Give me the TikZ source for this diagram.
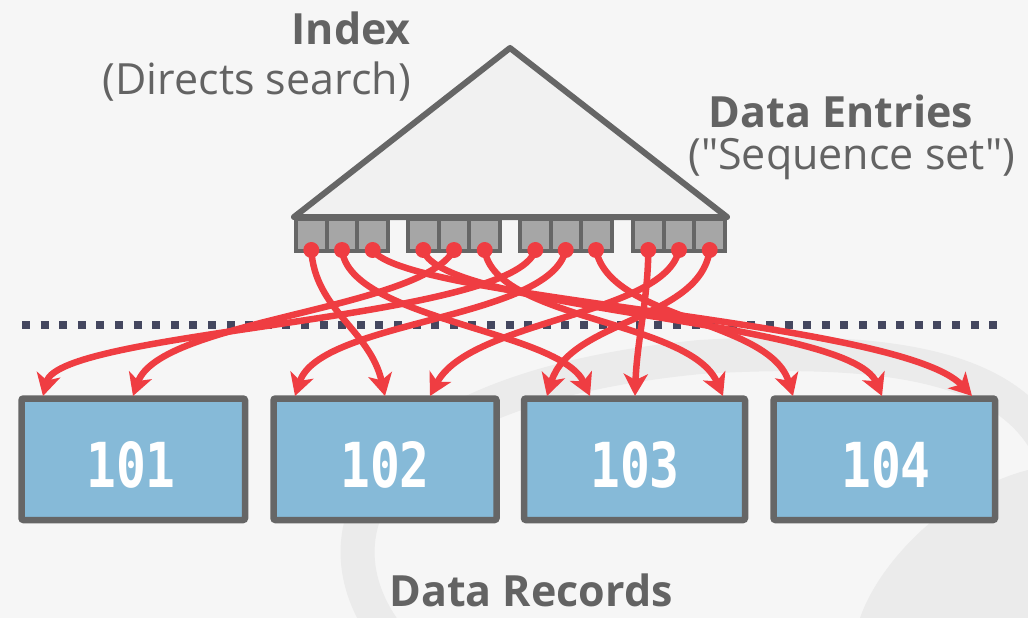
\documentclass[tikz,border=0pt]{standalone}
\usepackage{fontspec}
\setmainfont{Open Sans}[Ligatures=TeXOff]
\newfontfamily\digitfont[FakeStretch=0.8]{DejaVu Sans Mono}
\usetikzlibrary{arrows.meta}
\definecolor{bg}{HTML}{F6F6F6}
\definecolor{wm}{HTML}{EBEBEB}
\definecolor{edge}{HTML}{666666}
\definecolor{cellfill}{HTML}{A6A6A6}
\definecolor{trifill}{HTML}{F1F1F1}
\definecolor{recfill}{HTML}{86BAD8}
\definecolor{ptr}{HTML}{EF3D42}
\definecolor{sep}{HTML}{44475F}
\definecolor{txt}{HTML}{636363}
\begin{document}
\begin{tikzpicture}[x=1pt,y=-1pt,
  lbl/.style={inner sep=0pt, text=txt, font=\fontsize{43}{50}\selectfont},
  blbl/.style={inner sep=0pt, text=txt, font=\fontsize{43}{50}\selectfont\bfseries},
  record/.style={draw=edge, fill=recfill, line width=6.5pt, rounded corners=2pt},
  rectext/.style={inner sep=0pt, text=white, font=\digitfont\bfseries\fontsize{62}{68}\selectfont},
  cell/.style={draw=edge, fill=cellfill, line width=4pt},
  ptrline/.style={draw=ptr, line width=6.5pt, -{Stealth[length=22pt,width=24pt,inset=6pt]}},
  ptrdot/.style={circle, fill=ptr, inner sep=0pt, minimum size=16pt}
]
\useasboundingbox (0,0) rectangle (1028,618);
\fill[bg] (0,0) rectangle (1028,618);
% watermark
\draw[wm, line width=34pt] (392,640) .. controls (310,540) and (360,390) .. (700,357)
   .. controls (900,345) and (1010,370) .. (1050,450);
\fill[wm] (1028,470) .. controls (950,490) and (880,560) .. (860,618) -- (1028,618) -- cycle;
% separator
\draw[sep, line width=8pt, dash pattern=on 8pt off 10.6pt] (22,325) -- (998,325);
% records
\draw[record] (21.5,398.5) rectangle (245,520) node[midway] (r1) {};
\draw[record] (273.5,398.5) rectangle (496.5,520) node[midway] (r2) {};
\draw[record] (524,398.5) rectangle (745,520) node[midway] (r3) {};
\draw[record] (773.5,398.5) rectangle (995,520) node[midway] (r4) {};
\node[rectext, anchor=base] (t1) at (131,487) {101};
\node[rectext, anchor=base] (t2) at (385,487) {102};
\node[rectext, anchor=base] (t3) at (635,487) {103};
\node[rectext, anchor=base] (t4) at (886,487) {104};
% arrow targets
\foreach \n/\x in {a/43,b/133,c/295,d/385,e/430,f/547,g/590,h/635,i/723,j/793,k/882,l/972}
  \coordinate (\n) at (\x,396);
% triangle
\draw[edge, fill=trifill, line width=6pt, line join=round] (510,48) -- (727,217) -- (294,217) -- cycle;
% cells
\foreach \g/\x in {1/296,2/408,3/520,4/633}{
  \foreach \c in {0,1,2}{
    \draw[cell] ({\x+\c*30.7},219) rectangle ({\x+(\c+1)*30.7},251);
  }
}
% dots
\foreach \n/\x in {1/311.3,2/342,3/372.7,4/423.3,5/454,6/484.7,7/535.3,8/565.7,9/596,10/648.3,11/679,12/709.7}
  \node[ptrdot] (p\n) at (\x,250) {};
% pointers
\draw[ptrline] (p1.center) .. controls (315,310) and (370,330) .. (d);
\draw[ptrline] (p2.center) .. controls (350,320) and (560,330) .. (g);
\draw[ptrline] (p3.center) .. controls (405,300) and (900,320) .. (l);
\draw[ptrline] (p4.center) .. controls (440,310) and (850,320) .. (k);
\draw[ptrline] (p5.center) .. controls (420,310) and (160,320) .. (b);
\draw[ptrline] (p6.center) .. controls (495,320) and (690,320) .. (i);
\draw[ptrline] (p7.center) .. controls (515,320) and (60,330) .. (a);
\draw[ptrline] (p8.center) .. controls (550,320) and (320,320) .. (c);
\draw[ptrline] (p9.center) .. controls (610,320) and (770,320) .. (j);
\draw[ptrline] (p10.center) .. controls (648,300) and (637,340) .. (h);
\draw[ptrline] (p11.center) .. controls (665,315) and (470,320) .. (e);
\draw[ptrline] (p12.center) .. controls (700,320) and (570,320) .. (f);
% labels
\node[blbl, anchor=base east] (idx) at (411,45) {Index};
\node[lbl, anchor=base east] (dsr) at (411,94) {(Directs search)};
\node[blbl, anchor=base] (den) at (841,127) {Data Entries};
\node[lbl, anchor=base] (sqs) at (852,169) {("Sequence set")};
\node[blbl, anchor=base] (drc) at (531,606) {Data Records};
\end{tikzpicture}
\end{document}
